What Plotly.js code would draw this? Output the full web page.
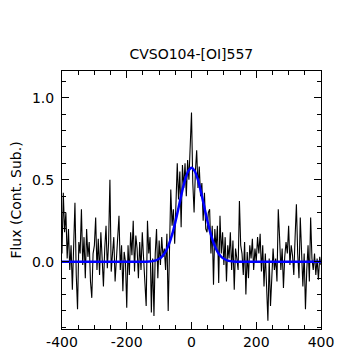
<!DOCTYPE html>
<html>
<head>
<meta charset="utf-8">
<script src="https://cdn.plot.ly/plotly-3.0.1.min.js"></script>
<style>html,body{margin:0;padding:0;background:#fff;}#chart{width:359px;height:352px;}</style>
</head>
<body>
<div id="chart"></div>
<script>
// Observed spectrum: velocity grid start/step (km/s) and flux values
var velStart = -400;
var velStep = 4;
var fluxObserved = [
  0.05, 0.42, 0.18, 0.30, 0.02, 0.20, -0.05, 0.10, -0.17, 0.08,
  0.36, -0.08, -0.29, 0.12, 0.05, 0.32, -0.02, 0.15, -0.10, 0.20,
  0.03, 0.12, -0.12, -0.22, 0.05, 0.10, 0.27, -0.05, 0.14, -0.08,
  0.18, 0.02, -0.15, 0.08, 0.22, -0.04, 0.12, 0.50, -0.06, 0.05,
  0.15, -0.12, 0.02, 0.20, 0.28, -0.05, 0.10, -0.18, 0.06, 0.00,
  -0.28, 0.10, -0.08, 0.18, 0.04, 0.25, -0.06, 0.16, 0.08, -0.10,
  0.12, -0.05, 0.18, 0.02, -0.15, -0.27, 0.25, 0.05, 0.15, -0.31,
  0.02, -0.33, 0.05, 0.20, -0.10, 0.13, -0.02, 0.15, 0.03, 0.08,
  -0.05, 0.17, -0.30, 0.18, 0.44, 0.22, 0.32, 0.11, 0.40, 0.60,
  0.38, 0.55, 0.21, 0.59, 0.45, 0.60, 0.40, 0.62, 0.50, 0.72,
  0.91, 0.48, 0.30, 0.55, 0.68, 0.45, 0.58, 0.40, 0.48, 0.25,
  0.42, 0.20, 0.18, 0.30, 0.32, 0.05, 0.22, -0.14, 0.20, 0.08,
  0.22, -0.13, 0.28, 0.05, 0.18, -0.02, 0.15, -0.12, 0.10, 0.02,
  0.18, -0.05, 0.13, -0.17, 0.08, 0.02, -0.05, 0.37, 0.10, 0.05,
  -0.08, 0.12, -0.20, 0.06, -0.10, 0.10, 0.02, 0.14, -0.05, 0.08,
  0.00, 0.15, 0.05, 0.17, -0.06, 0.10, -0.15, 0.05, -0.20, -0.36,
  0.02, -0.27, -0.10, 0.08, -0.05, 0.02, -0.12, 0.32, 0.15, -0.05,
  0.08, -0.16, 0.03, 0.12, 0.05, 0.22, -0.02, 0.10, 0.04, -0.08,
  0.15, 0.35, 0.05, -0.10, 0.27, 0.00, -0.15, 0.05, -0.29, -0.05,
  0.10, -0.12, 0.27, 0.02, -0.05, 0.05, -0.08, 0.02, -0.11, 0.03,
  -0.02
];

// Gaussian fit curve
var fitVelocity = [-400, -150, -140, -130, -120, -110, -100, -90, -80, -70, -60, -50, -40, -30, -20, -10, 0,
                   10, 20, 30, 40, 50, 60, 70, 80, 90, 100, 110, 120, 130, 140, 150, 400];
var fitFlux = [0, 0, 0.0006, 0.0016, 0.0039, 0.0087, 0.0179, 0.0347, 0.0624, 0.105, 0.165, 0.241, 0.329, 0.420, 0.499, 0.553, 0.573,
               0.553, 0.499, 0.420, 0.329, 0.241, 0.165, 0.105, 0.0624, 0.0347, 0.0179, 0.0087, 0.0039, 0.0016, 0.0006, 0, 0];

var xTickVals = [-400, -200, 0, 200, 400];
var xTickText = ['-400', '-200', '0', '200', '400'];
var yTickVals = [0.0, 0.5, 1.0];
var yTickText = ['0.0', '0.5', '1.0'];

var titleText = 'CVSO104-[OI]557';
var xTitleText = 'Velocity (km s<sup>-1</sup>)';
var yTitleText = 'Flux (Cont. Sub.)';

var font = 'DejaVu Sans, sans-serif';

var traces = [
  {
    type: 'scatter', mode: 'lines',
    x0: velStart, dx: velStep, y: fluxObserved,
    line: {color: '#000000', width: 1.1},
    hoverinfo: 'skip', showlegend: false
  },
  {
    type: 'scatter', mode: 'lines',
    x: fitVelocity, y: fitFlux,
    line: {color: '#0000ff', width: 2.5, shape: 'spline', smoothing: 0.6},
    hoverinfo: 'skip', showlegend: false
  }
];

var axisCommon = {
  showgrid: false, zeroline: false,
  showline: true, linecolor: '#000000', linewidth: 1,
  mirror: 'allticks', ticks: 'inside', ticklen: 7, tickwidth: 1, tickcolor: '#000000',
  tickfont: {family: font, size: 14, color: '#000000'}
};

var layout = {
  width: 359, height: 352,
  margin: {l: 62, r: 38, t: 71, b: 23, pad: 0},
  paper_bgcolor: '#ffffff', plot_bgcolor: '#ffffff',
  showlegend: false,
  title: {text: titleText, font: {family: font, size: 14, color: '#000000'}, x: 0.533, xanchor: 'center', y: 0.845, yanchor: 'middle'},
  xaxis: Object.assign({}, axisCommon, {
    range: [-400, 400],
    tickmode: 'array', tickvals: xTickVals, ticktext: xTickText,
    minor: {dtick: 50, ticks: 'inside', ticklen: 4, tickcolor: '#000000', tickwidth: 1, showgrid: false},
    ticklabelstandoff: 0
  }),
  yaxis: Object.assign({}, axisCommon, {
    range: [-0.41, 1.163],
    tickmode: 'array', tickvals: yTickVals, ticktext: yTickText,
    minor: {dtick: 0.1, tick0: 0, ticks: 'inside', ticklen: 4, tickcolor: '#000000', tickwidth: 1, showgrid: false},
    ticklabelstandoff: 4,
    title: {text: yTitleText, font: {family: font, size: 14, color: '#000000'}, standoff: 7}
  }),
  annotations: [{
    text: xTitleText, showarrow: false,
    xref: 'paper', yref: 'paper', x: 0.637, xanchor: 'right', y: -0.079, yanchor: 'top',
    font: {family: font, size: 14, color: '#000000'}
  }]
};

Plotly.newPlot('chart', traces, layout, {staticPlot: true, displayModeBar: false});
</script>
</body>
</html>
